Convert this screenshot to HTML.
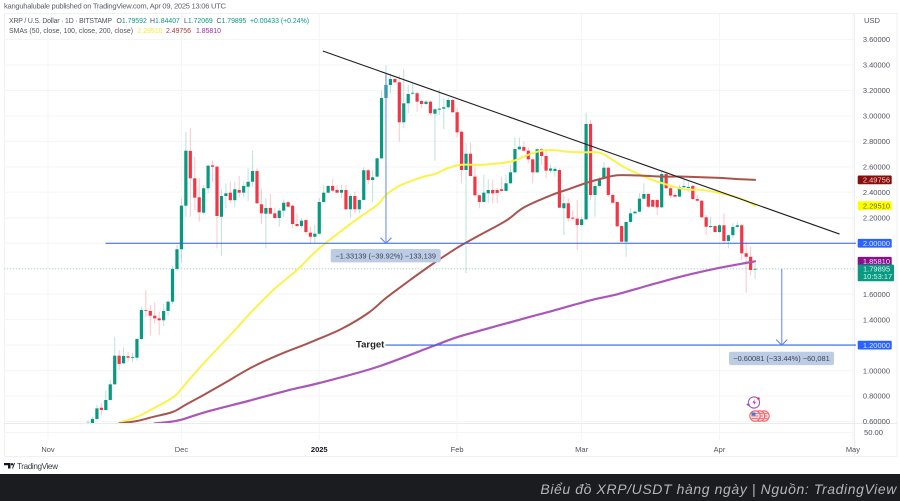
<!DOCTYPE html>
<html lang="en">
<head>
<meta charset="utf-8">
<title>XRP/USDT daily chart</title>
<style>
html,body{margin:0;padding:0;background:#fff;}
body{width:900px;height:501px;overflow:hidden;position:relative;font-family:"Liberation Sans",sans-serif;}
svg{position:absolute;left:0;top:0;display:block;filter:blur(0.3px);}
text{font-family:"Liberation Sans",sans-serif;}
#footer{position:absolute;left:0;top:474px;width:900px;height:27px;background:#1b1c1f;}
#caption{position:absolute;right:3px;top:7px;font:italic 14px "Liberation Sans",sans-serif;letter-spacing:.6px;color:#b5b5b8;white-space:nowrap;}
</style>
</head>
<body>
<svg id="chart" width="900" height="474" viewBox="0 0 900 474" xmlns="http://www.w3.org/2000/svg">
  <defs><clipPath id="pane"><rect x="4" y="14" width="850" height="409"/></clipPath></defs>
  <rect x="4.5" y="13.5" width="892.5" height="443" fill="#fff" stroke="#f0f1f3"/>
  <g id="grid"></g>
  <line x1="854.5" y1="14" x2="854.5" y2="456" stroke="#eceef2"/>
  <line x1="4" y1="423.5" x2="897" y2="423.5" stroke="#e9ebef"/>
  <line x1="4" y1="432.5" x2="854" y2="432.5" stroke="#f3f4f6"/>
  <g id="plot" clip-path="url(#pane)"></g>
  <g id="annotations"></g>
  <g id="yaxis"></g>
  <g id="xaxis"></g>

  <text x="4" y="8.5" font-size="7.6" fill="#5d606b" textLength="222">kanguhalubale published on TradingView.com, Apr 09, 2025 13:06 UTC</text>

  <g font-size="6.9">
    <text x="9" y="23" fill="#50535e" textLength="103">XRP / U.S. Dollar · 1D · BITSTAMP</text>
    <text x="116.5" y="23" fill="#50535e">O<tspan fill="#089981">1.79592</tspan></text>
    <text x="150" y="23" fill="#50535e">H<tspan fill="#089981">1.84407</tspan></text>
    <text x="184" y="23" fill="#50535e">L<tspan fill="#089981">1.72069</tspan></text>
    <text x="216.5" y="23" fill="#50535e">C<tspan fill="#089981">1.79895</tspan></text>
    <text x="250" y="23" fill="#089981">+0.00433 (+0.24%)</text>
    <text x="9" y="33" fill="#50535e" textLength="124">SMAs (50, close, 100, close, 200, close)</text>
    <text x="137.5" y="33" fill="#f5ea3a">2.29510</text>
    <text x="166" y="33" fill="#a83a3a">2.49756</text>
    <text x="196" y="33" fill="#9c27b0">1.85810</text>
  </g>

  <text x="864" y="23" font-size="7.6" fill="#50535e">USD</text>
  <text x="864" y="435" font-size="7.6" fill="#50535e">50.00</text>

  <text x="356" y="347.5" font-size="9.5" font-weight="bold" fill="#222">Target</text>

  <g>
    <circle cx="754" cy="402.5" r="5.6" fill="#fff" stroke="#a855c9" stroke-width="1.1"/>
    <path d="M755 399l-2.5 3.6h2l-1 3 2.6-3.8h-2z" fill="#9c27b0"/>
    <circle cx="758.5" cy="398.5" r="1.3" fill="#f23645"/>
    <path d="M748 403l1 1.3 1.4.3-1.4.4-1 1.2-.8-1.2-1.3-.4 1.3-.3z" fill="#7e57c2"/>
    <g id="flags"></g>
  </g>

  <g>
    <path d="M4 463h6.500v5.500h-2.500v-3.200h-4z M12 468.500l2-5.500h1l-2 5.500z" fill="#131722"/>
    <circle cx="12" cy="464.300" r="1.200" fill="#131722"/>
    <text x="17" y="469" font-size="8.2" fill="#3b3d45" textLength="41">TradingView</text>
  </g>
</svg>

<div id="footer">
  <div id="caption">Biểu đồ XRP/USDT hàng ngày | Nguồn: TradingView</div>
</div>

<script>
const firstDay = 9;
const opens = [
0.58,0.586,0.62,0.708,0.69,0.769,0.892,1.117,1.057,1.112,
1.101,1.101,1.248,1.476,1.468,1.431,1.41,1.395,1.468,1.541,
1.798,1.953,2.295,2.725,2.51,2.361,2.24,2.432,2.612,2.601,
2.208,2.371,2.397,2.338,2.418,2.397,2.444,2.483,2.567,2.306,
2.232,2.277,2.235,2.198,2.256,2.322,2.295,2.151,2.135,2.182,
2.083,2.051,2.075,2.324,2.397,2.45,2.418,2.397,2.418,2.267,
2.371,2.267,2.34,2.573,2.497,2.523,2.667,3.141,3.243,3.29,
3.264,2.95,3.099,3.175,3.178,3.117,3.094,3.112,3.017,3.049,
3.057,3.068,3.125,3.029,2.876,2.575,2.703,2.523,2.377,2.324,
2.392,2.418,2.418,2.424,2.411,2.471,2.557,2.738,2.756,2.727,
2.659,2.557,2.738,2.685,2.57,2.567,2.575,2.275,2.314,2.201,
2.193,2.143,2.188,2.937,2.379,2.45,2.505,2.593,2.379,2.324,
2.135,2.012,2.167,2.235,2.248,2.35,2.387,2.34,2.34,2.282,
2.544,2.432,2.379,2.366,2.44,2.434,2.45,2.347,2.334,2.204,
2.127,2.135,2.088,2.141,2.018,2.063,2.128,2.141,1.921,1.894,1.796];
const highs = [
0.612,0.638,0.729,0.743,0.842,0.926,1.266,1.162,1.183,1.148,
1.14,1.253,1.502,1.633,1.515,1.536,1.463,1.523,1.555,1.82,
1.986,2.355,2.876,2.903,2.68,2.51,2.458,2.615,2.648,2.61,
2.424,2.471,2.483,2.483,2.528,2.483,2.589,2.727,2.589,2.426,
2.353,2.385,2.279,2.275,2.345,2.332,2.3,2.235,2.196,2.188,
2.13,2.143,2.355,2.458,2.458,2.502,2.458,2.458,2.458,2.387,
2.405,2.345,2.597,2.581,2.575,2.675,3.198,3.4,3.335,3.296,
3.321,3.366,3.243,3.259,3.19,3.125,3.125,3.125,3.06,3.209,
3.138,3.146,3.131,3.06,2.889,2.785,2.79,2.601,2.385,2.536,
2.502,2.497,2.434,2.523,2.536,2.615,2.832,2.832,2.798,2.758,
2.667,2.746,2.746,2.732,2.615,2.601,2.589,2.379,2.353,2.261,
2.34,2.209,3.025,2.969,2.483,2.523,2.636,2.601,2.392,2.326,
2.143,2.169,2.275,2.256,2.392,2.471,2.392,2.345,2.345,2.57,
2.562,2.444,2.392,2.458,2.51,2.483,2.458,2.379,2.34,2.222,
2.209,2.143,2.151,2.235,2.07,2.157,2.17,2.151,2.012,1.973,1.844];
const lows = [
0.56,0.57,0.612,0.646,0.685,0.763,0.887,1.005,1.052,1.07,
1.065,1.078,1.24,1.423,1.274,1.371,1.279,1.35,1.429,1.523,
1.782,1.847,2.209,2.209,2.261,2.169,2.227,2.393,2.483,1.96,
1.9,2.274,2.314,2.282,2.361,2.361,2.332,2.444,2.308,2.151,
1.96,2.227,2.19,2.13,2.209,2.282,2.117,2.13,2.117,2.065,
1.994,2.004,2.065,2.318,2.392,2.405,2.392,2.353,2.261,2.201,
2.235,2.235,2.334,2.465,2.326,2.518,2.662,3.138,3.178,3.256,
2.798,2.903,3.021,3.164,3.033,3.06,3.086,3.007,2.648,3.007,
2.897,3.052,3.021,2.832,2.471,1.766,2.523,2.366,2.275,2.318,
2.314,2.314,2.314,2.405,2.405,2.465,2.549,2.732,2.719,2.628,
2.471,2.549,2.615,2.51,2.552,2.523,2.275,2.065,2.169,2.182,
1.947,2.13,2.182,2.34,2.209,2.44,2.497,2.366,2.308,2.125,
2.007,1.894,2.157,2.23,2.24,2.345,2.275,2.279,2.222,2.275,
2.424,2.353,2.361,2.361,2.432,2.405,2.34,2.326,2.196,2.065,
2.117,2.083,2.083,2.0,1.96,2.039,2.117,1.868,1.612,1.75,1.721];
const closes = [
0.59,0.62,0.703,0.69,0.769,0.892,1.117,1.052,1.115,1.101,
1.107,1.248,1.476,1.47,1.431,1.41,1.395,1.468,1.541,1.798,
1.953,2.295,2.727,2.51,2.358,2.243,2.432,2.609,2.601,2.214,
2.371,2.392,2.338,2.424,2.397,2.45,2.483,2.567,2.314,2.235,
2.277,2.232,2.198,2.256,2.318,2.287,2.151,2.135,2.177,2.088,
2.051,2.075,2.324,2.397,2.45,2.413,2.397,2.418,2.267,2.371,
2.267,2.34,2.573,2.497,2.518,2.667,3.141,3.243,3.29,3.264,
2.95,3.099,3.172,3.182,3.112,3.094,3.112,3.021,3.052,3.057,
3.068,3.125,3.029,2.871,2.575,2.703,2.528,2.377,2.324,2.397,
2.418,2.392,2.395,2.411,2.471,2.557,2.74,2.758,2.727,2.659,
2.557,2.738,2.685,2.57,2.587,2.584,2.279,2.314,2.196,2.193,
2.143,2.188,2.937,2.379,2.45,2.505,2.593,2.379,2.318,2.133,
2.012,2.167,2.235,2.248,2.35,2.387,2.287,2.287,2.282,2.544,
2.432,2.374,2.366,2.44,2.45,2.442,2.347,2.334,2.204,2.13,
2.135,2.088,2.141,2.018,2.063,2.128,2.141,1.921,1.894,1.79,1.799];

const sma50Days = [16,20,23,27,29,32,36,41,46,51,56,61,69,74,76,79,84,87,90,93,98,104,107,110,113,117,120,124,127,130,135,138,143,147,152,156,159];
const sma50Values = [0.59,0.635,0.69,0.765,0.816,0.939,1.095,1.279,1.47,1.644,1.79,1.96,2.177,2.3,2.379,2.45,2.518,2.544,2.591,2.616,2.617,2.641,2.68,2.719,2.732,2.719,2.714,2.711,2.654,2.589,2.51,2.473,2.424,2.419,2.387,2.348,2.295];
const sma100Days = [16,20,23,28,31,35,40,46,52,58,61,66,72,76,81,86,92,97,103,107,113,117,121,125,128,133,138,143,151,156,159];
const sma100Values = [0.585,0.604,0.631,0.675,0.733,0.808,0.908,1.029,1.125,1.207,1.251,1.327,1.452,1.57,1.7,1.825,1.964,2.062,2.177,2.281,2.375,2.424,2.473,2.512,2.534,2.532,2.523,2.523,2.513,2.502,2.4976];
const sma200Days = [24,27,30,36,45,54,61,74,87,92,97,106,113,122,128,135,143,151,156,159];
const sma200Values = [0.585,0.595,0.614,0.68,0.761,0.845,0.902,1.028,1.198,1.262,1.312,1.399,1.465,1.552,1.599,1.668,1.744,1.807,1.839,1.858];

const trendDays = [61.8,178];
const trendPrices = [3.51,2.072];

const priceTicks = [3.6,3.4,3.2,3.0,2.8,2.6,2.4,2.2,1.6,1.4,1.0,0.8,0.6];
const gridPrices = [3.6,3.4,3.2,3.0,2.8,2.6,2.4,2.2,2.0,1.8,1.6,1.4,1.2,1.0,0.8,0.6];
const timeLabels = ['Nov','Dec','2025','Feb','Mar','Apr','May'];
const timeDays = [0,30,61,92,120,151,181];

const badgePrices = [2.49756,2.2951,2.0,1.8581,1.2];
const badgeLabels = ['2.49756','2.29510','2.00000','1.85810','1.20000'];
const badgeFills = ['#880e0e','#ffff00','#2962ff','#88108f','#2962ff'];
const badgeInks = ['#f4cccc','#6a6a00','#dbe5ff','#f3d9f5','#dbe5ff'];
const badgeNames = ['sma100-badge','sma50-badge','support-badge','sma200-badge','target-badge'];

const lastPrice = 1.79895;
const lastPriceLabel = '1.79895';
const countdownLabel = '10:53:17';
const supportLevel = 2.0;
const targetLevel = 1.2;
const arrowOneDay = 76;
const arrowOneFrom = 3.33;
const arrowOneLabel = '−1.33139 (−39.92%) −133,139';
const arrowTwoDay = 165;
const arrowTwoFrom = 1.79895;
const arrowTwoLabel = '−0.60081 (−33.44%) −60,081';

const NS = 'http://www.w3.org/2000/svg';
const xOf = d => 48 + d * 4.447;
const yOf = p => 497.9 - p * 127.33;

function make(parent, tag, attrs, text) {
  const el = document.createElementNS(NS, tag);
  for (const k in attrs) el.setAttribute(k, attrs[k]);
  if (text !== undefined) el.textContent = text;
  parent.appendChild(el);
  return el;
}

const grid = document.getElementById('grid');
gridPrices.forEach(p => {
  const el = make(grid, 'line', {x1: 4, x2: 854, y1: yOf(p), y2: yOf(p), stroke: '#f4f5f7', 'stroke-width': 1});
  
  
});
timeDays.forEach(d => {
  const el = make(grid, 'line', {x1: xOf(d), x2: xOf(d), y1: 14, y2: 440, stroke: '#f4f5f7', 'stroke-width': 1});
  
  
});

const plot = document.getElementById('plot');
const lastLine = make(plot, 'line', {x1: 4, x2: 854, y1: yOf(lastPrice), y2: yOf(lastPrice), stroke: '#089981', 'stroke-opacity': .45, 'stroke-width': .8, 'stroke-dasharray': '1 2'});



opens.forEach((o, i) => {
  const c = closes[i];
  const x = xOf(firstDay + i);
  const color = c >= o ? '#089981' : '#f23645';
  const g = make(plot, 'g', {});
  
  
  const wick = make(g, 'line', {x1: x, x2: x, y1: yOf(highs[i]), y2: yOf(lows[i]), stroke: color, 'stroke-opacity': .28, 'stroke-width': 1});
  
  
  const top = yOf(Math.max(o, c));
  const h = Math.max(Math.abs(yOf(o) - yOf(c)), .8);
  const body = make(g, 'rect', {x: x - 1.6, y: top, width: 3.2, height: h, fill: color});
  
  
});

function smoothPath(days, values) {
  const pts = days.map((d, i) => [xOf(d), yOf(values[i])]);
  let out = 'M' + pts[0][0].toFixed(1) + ' ' + pts[0][1].toFixed(1);
  for (let i = 0; i < pts.length - 1; i++) {
    const p0 = pts[Math.max(i - 1, 0)], p1 = pts[i], p2 = pts[i + 1], p3 = pts[Math.min(i + 2, pts.length - 1)];
    const c1x = p1[0] + (p2[0] - p0[0]) / 6, c1y = p1[1] + (p2[1] - p0[1]) / 6;
    const c2x = p2[0] - (p3[0] - p1[0]) / 6, c2y = p2[1] - (p3[1] - p1[1]) / 6;
    out += 'C' + c1x.toFixed(1) + ' ' + c1y.toFixed(1) + ' ' + c2x.toFixed(1) + ' ' + c2y.toFixed(1) + ' ' + p2[0].toFixed(1) + ' ' + p2[1].toFixed(1);
  }
  return out;
}
function drawSma(days, values, color, width, name) {
  const el = make(plot, 'path', {d: smoothPath(days, values), fill: 'none', stroke: color, 'stroke-width': width, 'stroke-linejoin': 'round', 'stroke-linecap': 'round'});
  
  
}
drawSma(sma50Days, sma50Values, '#fbf34a', 2, 'sma-50-line');
drawSma(sma100Days, sma100Values, '#a85450', 2, 'sma-100-line');
drawSma(sma200Days, sma200Values, '#ab57b8', 2.2, 'sma-200-line');

const ann = document.getElementById('annotations');
const trend = make(ann, 'line', {x1: xOf(trendDays[0]), y1: yOf(trendPrices[0]), x2: xOf(trendDays[1]), y2: yOf(trendPrices[1]), stroke: '#1f1f22', 'stroke-width': 1.1});



const support = make(ann, 'line', {x1: 105.5, x2: 856, y1: yOf(supportLevel), y2: yOf(supportLevel), stroke: '#2f5ff5', 'stroke-width': 1.1});


const target = make(ann, 'line', {x1: 385.5, x2: 856, y1: yOf(targetLevel), y2: yOf(targetLevel), stroke: '#2f5ff5', 'stroke-width': 1.1});



function drawMeasure(day, from, to, label, name, boxX, boxY, boxW) {
  const x = xOf(day), y0 = yOf(from), y1 = yOf(to);
  const shaft = make(ann, 'line', {x1: x, x2: x, y1: y0, y2: y1, stroke: '#6f90f5', 'stroke-width': 1.1});
  
  
  const head = make(ann, 'polyline', {points: (x - 5.5) + ',' + (y1 - 5.5) + ' ' + x + ',' + y1 + ' ' + (x + 5.5) + ',' + (y1 - 5.5), fill: 'none', stroke: '#5b82f0', 'stroke-width': 1.1});
  
  
  const box = make(ann, 'rect', {x: boxX, y: boxY, width: boxW, height: 13.4, rx: 2, fill: '#bccce4'});
  
  
  const t = make(ann, 'text', {x: boxX + boxW / 2, y: boxY + 9.3, 'font-size': 7.4, fill: '#3f4654', 'text-anchor': 'middle'}, label);
  
  
}
drawMeasure(arrowOneDay, arrowOneFrom, supportLevel, arrowOneLabel, 'measure-drop', 330.7, 249, 110);
drawMeasure(arrowTwoDay, arrowTwoFrom, targetLevel, arrowTwoLabel, 'measure-target', 729, 351.7, 105);

const yaxis = document.getElementById('yaxis');
priceTicks.forEach(p => {
  const t = make(yaxis, 'text', {x: 890, y: yOf(p) + 2.7, 'font-size': 7.5, fill: '#50535e', 'text-anchor': 'end'}, p.toFixed(5));
  
  
});
badgePrices.forEach((p, i) => {
  const y = yOf(p);
  const r = make(yaxis, 'rect', {x: 857.7, y: y - 4.4, width: 34, height: 8.8, rx: 1, fill: badgeFills[i]});
  
  
  const t = make(yaxis, 'text', {x: 890, y: y + 2.7, 'font-size': 7.5, fill: badgeInks[i], 'text-anchor': 'end'}, badgeLabels[i]);
  
  
});
const lastBox = make(yaxis, 'rect', {x: 857.7, y: yOf(lastPrice) - 4.2, width: 36.3, height: 16.6, rx: 1, fill: '#089981'});


const lastText = make(yaxis, 'text', {x: 863, y: yOf(lastPrice) + 2.8, 'font-size': 7.5, fill: '#d5f2ec'}, lastPriceLabel);


const cdText = make(yaxis, 'text', {x: 863, y: yOf(lastPrice) + 10.3, 'font-size': 7.5, fill: '#d5f2ec'}, countdownLabel);



const xaxis = document.getElementById('xaxis');
timeLabels.forEach((label, i) => {
  const attrs = {x: xOf(timeDays[i]), y: 452, 'font-size': 7.5, fill: label === '2025' ? '#131722' : '#50535e', 'text-anchor': 'middle'};
  if (label === '2025') attrs['font-weight'] = 'bold';
  const t = make(xaxis, 'text', attrs, label);
  
  
});

const flags = document.getElementById('flags');
[764, 759.5, 755].forEach(cx => {
  const c = make(flags, 'circle', {cx: cx, cy: 416, r: 5.2, fill: '#fbe4e4', stroke: '#f0646c', 'stroke-width': 1.1});
  
  
  [-2.4, 0, 2.4].forEach(dy => {
    const s = make(flags, 'line', {x1: cx - 3.6, x2: cx + 3.6, y1: 416 + dy, y2: 416 + dy, stroke: '#f0646c', 'stroke-width': .9});
    
    
  });
});
const canton = make(flags, 'rect', {x: 751.5, y: 412.5, width: 4, height: 3, fill: '#3b7ddd'});


</script>
</body>
</html>
